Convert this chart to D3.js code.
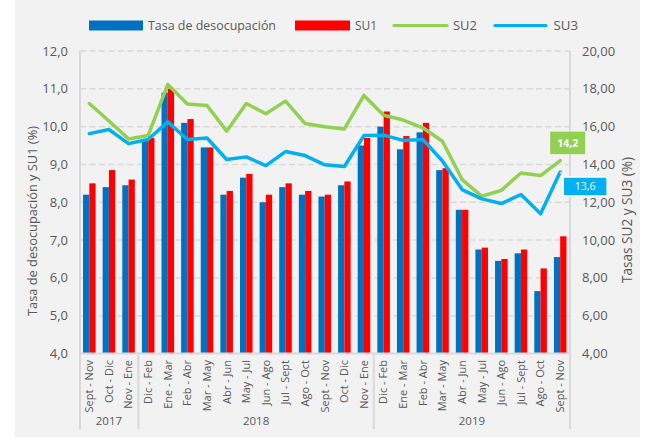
<!DOCTYPE html>
<html><head><meta charset="utf-8">
<script src="https://cdn.jsdelivr.net/npm/d3@7"></script>
<style>html,body{margin:0;padding:0;background:#fff;} svg{display:block;font-family:"Open Sans",sans-serif;}</style>
</head><body><svg id="c" width="646" height="439"></svg>
<script>
const categories=["Sept - Nov","Oct - Dic","Nov - Ene","Dic - Feb","Ene - Mar","Feb - Abr","Mar - May","Abr - Jun","May - Jul","Jun - Ago","Jul - Sept","Ago - Oct","Sept - Nov","Oct - Dic","Nov - Ene","Dic - Feb","Ene - Mar","Feb - Abr","Mar - May","Abr - Jun","May - Jul","Jun - Ago","Jul - Sept","Ago - Oct","Sept - Nov"];
const yearLabels=["2017","2018","2019"];
const yearCounts=[3,12,10];
const desocupacion=[8.2,8.4,8.45,9.65,10.9,10.1,9.45,8.2,8.65,8.0,8.4,8.2,8.15,8.45,9.5,10.0,9.4,9.85,8.85,7.8,6.75,6.45,6.65,5.65,6.55];
const su1=[8.5,8.85,8.6,9.7,11.0,10.2,9.45,8.3,8.75,8.2,8.5,8.3,8.2,8.55,9.7,10.4,9.75,10.1,8.9,7.8,6.8,6.5,6.75,6.25,7.1];
const su2=[17.22,16.3,15.35,15.53,18.23,17.2,17.12,15.76,17.22,16.68,17.35,16.16,15.99,15.88,17.65,16.6,16.35,15.94,15.23,13.2,12.32,12.63,13.55,13.41,14.2];
const su3=[15.63,15.85,15.1,15.32,16.25,15.32,15.4,14.26,14.4,13.94,14.68,14.47,13.98,13.89,15.53,15.55,15.27,15.32,14.18,12.67,12.18,11.93,12.41,11.39,13.6];
const leftTicks=[4,5,6,7,8,9,10,11,12];
const rightTicks=[4,6,8,10,12,14,16,18,20];
const seriesNames=["Tasa de desocupación","SU1","SU2","SU3"];
const leftTitle="Tasa de desocupación y SU1 (%)";
const rightTitle="Tasas SU2 y SU3 (%)";

const C={blue:"#0070c0",red:"#ff0000",green:"#92d050",cyan:"#00b0f0",text:"#595959",grid:"#d9d9d9"};
const svg=d3.select("#c");
svg.append("rect").attr("x",15).attr("y",0).attr("width",625).attr("height",437).attr("fill","#f2f2f2");

const x0=79.5,x1=570,yTop=51,yBot=353.5,yLow=429;
const x=d3.scaleBand().domain(d3.range(categories.length)).range([x0,x1]).paddingInner(0.36).paddingOuter(0.18);
const xs=d3.scaleBand().domain([0,1]).range([0,x.bandwidth()]);
const yL=d3.scaleLinear().domain([4,12]).range([yBot,yTop]);
const yR=d3.scaleLinear().domain([4,20]).range([yBot,yTop]);
const step=x.step();

// grid
svg.append("g").selectAll("line").data(leftTicks.slice(1)).join("line")
  .attr("x1",80).attr("x2",x1).attr("y1",d=>yL(d)).attr("y2",d=>yL(d))
  .attr("stroke",C.grid).attr("stroke-width",1.5).attr("stroke-dasharray","6,3.5");

// bars
const bars=svg.append("g");
[[desocupacion,C.blue,0],[su1,C.red,1]].forEach(([vals,col,k])=>{
  bars.selectAll(null).data(vals).join("rect")
    .attr("x",(d,i)=>x(i)+xs(k)).attr("width",xs.bandwidth())
    .attr("y",d=>yL(d)).attr("height",d=>yL(4)-yL(d)).attr("fill",col);
});

// axis lines
const ax=svg.append("g").attr("stroke",C.grid).attr("stroke-width",2);
ax.append("line").attr("x1",80).attr("x2",80).attr("y1",yTop).attr("y2",yLow);
ax.append("line").attr("x1",x1).attr("x2",x1).attr("y1",yTop).attr("y2",yLow);
ax.append("line").attr("x1",80).attr("x2",x1).attr("y1",yBot).attr("y2",yBot);
let cum=0;
yearCounts.forEach((n,j)=>{ if(j>0){const bx=x0+cum*step; ax.append("line").attr("x1",bx).attr("x2",bx).attr("y1",yBot).attr("y2",yLow);} cum+=n;});

// lines
const line=vals=>d3.line().x((d,i)=>x(i)+x.bandwidth()/2).y(d=>yR(d))(vals);
svg.append("path").attr("d",line(su2)).attr("fill","none").attr("stroke",C.green).attr("stroke-width",3.5).attr("stroke-linejoin","round").attr("stroke-linecap","round");
svg.append("path").attr("d",line(su3)).attr("fill","none").attr("stroke",C.cyan).attr("stroke-width",3.5).attr("stroke-linejoin","round").attr("stroke-linecap","round");

// tick labels
const fmt1=d=>d3.format(".1f")(d).replace(".",",");
const fmt2=d=>d3.format(".2f")(d).replace(".",",");
svg.append("g").selectAll("text").data(leftTicks).join("text")
  .attr("x",68).attr("y",d=>yL(d)).attr("text-anchor","end").attr("dy","0.35em")
  .attr("font-size",13).attr("fill",C.text).text(fmt1);
svg.append("g").selectAll("text").data(rightTicks).join("text")
  .attr("x",582).attr("y",d=>yR(d)).attr("text-anchor","start").attr("dy","0.35em")
  .attr("font-size",13).attr("fill",C.text).text(fmt2);

// category labels
svg.append("g").selectAll("text").data(categories).join("text")
  .attr("transform",(d,i)=>`translate(${x(i)+x.bandwidth()/2},360) rotate(-90)`)
  .attr("text-anchor","end").attr("dy","0.35em").attr("font-size",11).attr("fill",C.text).text(d=>d);

// year labels
cum=0;
yearLabels.forEach((lab,j)=>{
  const cx=x0+(cum+yearCounts[j]/2)*step;
  svg.append("text").attr("x",cx).attr("y",421).attr("text-anchor","middle").attr("dy","0.35em")
    .attr("font-size",11.5).attr("fill",C.text).text(lab);
  cum+=yearCounts[j];
});

// titles
svg.append("text").attr("transform","translate(32,221) rotate(-90)").attr("text-anchor","middle").attr("dy","0.35em")
  .attr("font-size",13.5).attr("fill",C.text).attr("textLength",190).attr("lengthAdjust","spacingAndGlyphs").text(leftTitle);
svg.append("text").attr("transform","translate(627,220) rotate(-90)").attr("text-anchor","middle").attr("dy","0.35em")
  .attr("font-size",14).attr("fill",C.text).attr("textLength",126).attr("lengthAdjust","spacingAndGlyphs").text(rightTitle);

// data labels
const last=categories.length-1;
const lx=x(last)+x.bandwidth()/2;
const gy=yR(su2[last]);
svg.append("rect").attr("x",lx-10).attr("y",gy-29).attr("width",35).attr("height",22.5).attr("fill",C.green);
svg.append("text").attr("x",lx+7.5).attr("y",gy-17.7).attr("text-anchor","middle").attr("dy","0.35em")
  .attr("font-size",10.5).attr("font-weight","bold").attr("fill","#fff").text(fmt1(su2[last]));
const cy=yR(su3[last]);
svg.append("line").attr("x1",lx).attr("y1",cy).attr("x2",lx+4).attr("y2",cy+5).attr("stroke","#fff").attr("stroke-width",1.2);
svg.append("rect").attr("x",lx+3).attr("y",cy+5).attr("width",44).attr("height",19).attr("rx",2)
  .attr("fill",C.cyan).attr("stroke","#fff").attr("stroke-width",1.5);
svg.append("text").attr("x",lx+25).attr("y",cy+14.5).attr("text-anchor","middle").attr("dy","0.35em")
  .attr("font-size",10.5).attr("fill","#fff").text(fmt1(su3[last]));

// legend
const lg=svg.append("g");
const ly=25.5;
const legendItems=[
  {name:seriesNames[0],type:"rect",col:C.blue,sx:89,sw:54,tx:148,tl:128},
  {name:seriesNames[1],type:"rect",col:C.red,sx:295,sw:55,tx:355,tl:22},
  {name:seriesNames[2],type:"line",col:C.green,sx:393,sw:55,tx:453,tl:24},
  {name:seriesNames[3],type:"line",col:C.cyan,sx:494,sw:53,tx:553.5,tl:24.5}
];
legendItems.forEach(it=>{
  if(it.type==="rect") lg.append("rect").attr("x",it.sx).attr("y",ly-5).attr("width",it.sw).attr("height",10).attr("fill",it.col);
  else lg.append("line").attr("x1",it.sx+1).attr("x2",it.sx+it.sw-1).attr("y1",ly).attr("y2",ly).attr("stroke",it.col).attr("stroke-width",3.2).attr("stroke-linecap","round");
  lg.append("text").attr("x",it.tx).attr("y",ly).attr("dy","0.35em").attr("font-size",13).attr("fill",C.text)
    .attr("textLength",it.tl).attr("lengthAdjust","spacingAndGlyphs").text(it.name);
});
</script></body></html>
